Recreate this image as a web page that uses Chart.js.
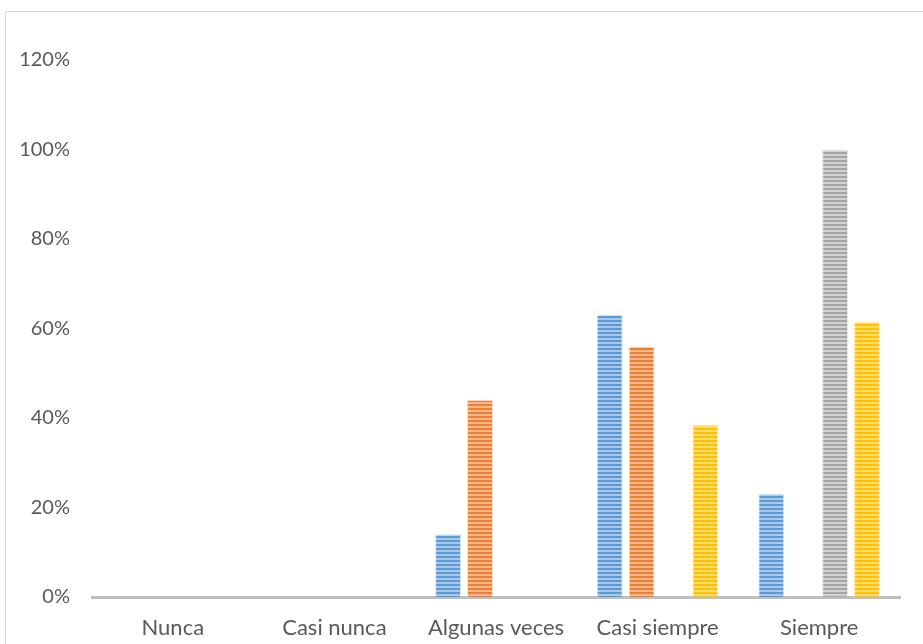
<!DOCTYPE html>
<html>
<head>
<meta charset="utf-8">
<script src="https://cdn.jsdelivr.net/npm/chart.js@4"></script>
<style>
  body { margin: 0; background: #fff; }
  #wrap { width: 923px; height: 644px; }
</style>
</head>
<body>
<div id="wrap"><canvas id="myChart" width="923" height="644"></canvas></div>
<script>
var categories = ['Nunca', 'Casi nunca', 'Algunas veces', 'Casi siempre', 'Siempre'];
var serieA = [0, 0, 14, 63, 23];
var serieB = [0, 0, 44, 56, 0];
var serieC = [0, 0, 0, 0, 100];
var serieD = [0, 0, 0, 38.5, 61.5];
var yTicks = [0, 20, 40, 60, 80, 100, 120];

// horizontal stripes: two dark rows, two light rows
function stripes(dark, light) {
    var c = document.createElement('canvas');
    c.width = 1;
    c.height = 4;
    var g = c.getContext('2d');
    g.fillStyle = dark;
    g.fillRect(0, 0, 1, 2);
    g.fillStyle = light;
    g.fillRect(0, 2, 1, 2);
    return g.createPattern(c, 'repeat');
}

var frame = {
    id: 'frame',
    beforeDraw: function (chart) {
        var c = chart.ctx;
        c.save();
        c.strokeStyle = '#d9d9d9';
        c.lineWidth = 1;
        c.strokeRect(5.5, 11.5, chart.width, chart.height);
        c.restore();
    }
};

Chart.defaults.font.family = 'Lato';
Chart.defaults.color = '#595959';

var ctx = document.getElementById('myChart').getContext('2d');
var myChart = new Chart(ctx, {
    type: 'bar',
    data: {
        labels: categories,
        datasets: [{
            label: 'Serie 1',
            data: serieA,
            backgroundColor: stripes('#5b9bd5', '#a9c9ea'),
            borderColor: 'rgba(200,220,240,0.8)',
            borderWidth: 1
        },
        {
            label: 'Serie 2',
            data: serieB,
            backgroundColor: stripes('#ed7d31', '#f5b88e'),
            borderColor: 'rgba(248,210,185,0.8)',
            borderWidth: 1
        },
        {
            label: 'Serie 3',
            data: serieC,
            backgroundColor: stripes('#a5a5a5', '#d2d2d2'),
            borderColor: 'rgba(225,225,225,0.8)',
            borderWidth: 1
        },
        {
            label: 'Serie 4',
            data: serieD,
            backgroundColor: stripes('#ffc000', '#ffdc70'),
            borderColor: 'rgba(255,230,160,0.8)',
            borderWidth: 1
        }]
    },
    options: {
        responsive: false,
        animation: false,
        categoryPercentage: 0.79,
        barPercentage: 0.8125,
        layout: {
            padding: { top: 60, right: 23, left: 0, bottom: 0 }
        },
        plugins: {
            legend: { display: false },
            tooltip: { enabled: false }
        },
        scales: {
            x: {
                grid: { display: false },
                border: { display: true, color: '#bfbfbf', width: 3 },
                ticks: {
                    padding: 10,
                    font: { size: 22 }
                },
                afterFit: function (axis) { axis.height = 47; }
            },
            y: {
                min: 0,
                max: 120,
                grid: { display: false, drawTicks: false },
                border: { display: false },
                afterBuildTicks: function (axis) {
                    axis.ticks = yTicks.map(function (v) { return { value: v }; });
                },
                ticks: {
                    padding: 22,
                    font: { size: 20 },
                    callback: function (v) { return v + '%'; }
                },
                afterFit: function (axis) { axis.width = 92; }
            }
        }
    },
    plugins: [frame]
});
</script>
</body>
</html>
